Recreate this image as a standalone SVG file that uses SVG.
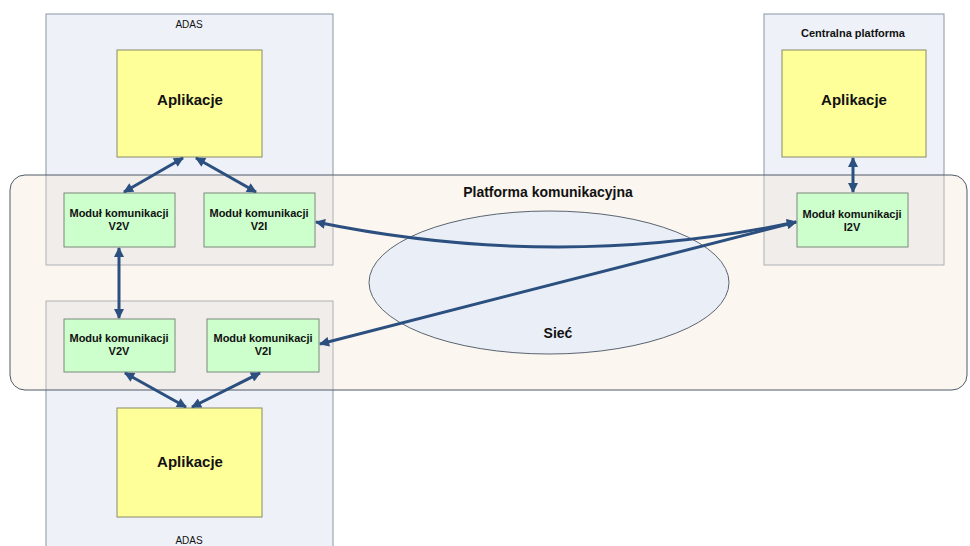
<svg xmlns="http://www.w3.org/2000/svg" width="970" height="546" viewBox="0 0 970 546">
<style>
.bg{fill:#ffffff}
.sys{fill:#eef1f8;stroke:#8a96a4;stroke-width:1}
.plat{fill:#f7e6d4;fill-opacity:0.35;stroke:#4e5a68;stroke-width:1}
.app{fill:#ffff99;stroke:#8a8a6a;stroke-width:1}
.mod{fill:#ccffcc;stroke:#7a8a7a;stroke-width:1}
.net{fill:#eaeff7;stroke:#5a6470;stroke-width:1}
.t{font-family:"Liberation Sans",Arial,sans-serif;fill:#111;text-anchor:middle}
.b{font-weight:bold}
.conn{fill:none;stroke:#2b4f7e;stroke-width:3}
</style>
<defs>
<marker id="ah" viewBox="0 0 10 10" refX="9" refY="5" markerWidth="12" markerHeight="10" markerUnits="userSpaceOnUse" orient="auto-start-reverse">
<path d="M0,0 L10,5 L0,10 z" fill="#2b4f7e"/>
</marker>
</defs>
<rect class="bg" x="0" y="0" width="970" height="546"/>
<g id="adas-top">
<rect class="sys" x="46" y="14" width="287" height="251"/>
<text class="t" x="189" y="28" font-size="10">ADAS</text>
</g>
<g id="adas-bottom">
<rect class="sys" x="46" y="301" width="287" height="260"/>
<text class="t" x="189" y="544" font-size="10">ADAS</text>
</g>
<g id="central">
<rect class="sys" x="764" y="14" width="180" height="251"/>
<text class="t b" x="853" y="37" font-size="11">Centralna platforma</text>
</g>
<g id="platforma">
<rect class="plat" x="10" y="175" width="957" height="215" rx="15" ry="15"/>
<text class="t b" x="548" y="197" font-size="14">Platforma komunikacyjna</text>
</g>
<g id="siec">
<ellipse class="net" cx="549" cy="282.5" rx="180" ry="71.5"/>
<text class="t b" x="558" y="338" font-size="14">Sieć</text>
</g>
<g id="app-top">
<rect class="app" x="117" y="50" width="145" height="107"/>
<text class="t b" x="190" y="105" font-size="15">Aplikacje</text>
</g>
<g id="app-bottom">
<rect class="app" x="117" y="408" width="145" height="109"/>
<text class="t b" x="190" y="467" font-size="15">Aplikacje</text>
</g>
<g id="app-central">
<rect class="app" x="782" y="50" width="144" height="107"/>
<text class="t b" x="854" y="105" font-size="15">Aplikacje</text>
</g>
<g id="v2v-top">
<rect class="mod" x="64" y="193" width="111" height="54"/>
<text class="t b" x="119" y="217" font-size="11">Moduł komunikacji</text>
<text class="t b" x="119" y="230" font-size="11">V2V</text>
</g>
<g id="v2i-top">
<rect class="mod" x="204" y="193" width="111" height="54"/>
<text class="t b" x="259" y="217" font-size="11">Moduł komunikacji</text>
<text class="t b" x="259" y="230" font-size="11">V2I</text>
</g>
<g id="v2v-bottom">
<rect class="mod" x="64" y="319" width="111" height="53"/>
<text class="t b" x="119" y="342" font-size="11">Moduł komunikacji</text>
<text class="t b" x="119" y="355" font-size="11">V2V</text>
</g>
<g id="v2i-bottom">
<rect class="mod" x="207" y="319" width="112" height="53"/>
<text class="t b" x="263" y="342" font-size="11">Moduł komunikacji</text>
<text class="t b" x="263" y="355" font-size="11">V2I</text>
</g>
<g id="i2v">
<rect class="mod" x="797" y="193" width="111" height="54"/>
<text class="t b" x="852" y="218" font-size="11">Moduł komunikacji</text>
<text class="t b" x="852" y="231" font-size="11">I2V</text>
</g>
<g id="connectors">
<line class="conn" x1="183" y1="158" x2="124" y2="192" marker-start="url(#ah)" marker-end="url(#ah)"/>
<line class="conn" x1="196" y1="158" x2="256" y2="192" marker-start="url(#ah)" marker-end="url(#ah)"/>
<line class="conn" x1="119" y1="248" x2="119" y2="318" marker-start="url(#ah)" marker-end="url(#ah)"/>
<line class="conn" x1="125" y1="373" x2="186" y2="407" marker-start="url(#ah)" marker-end="url(#ah)"/>
<line class="conn" x1="260" y1="373" x2="192" y2="407" marker-start="url(#ah)" marker-end="url(#ah)"/>
<line class="conn" x1="853" y1="158" x2="853" y2="192" marker-start="url(#ah)" marker-end="url(#ah)"/>
<path class="conn" d="M316,222 Q560,272 796,222" marker-start="url(#ah)" marker-end="url(#ah)"/>
<line class="conn" x1="320" y1="344" x2="796" y2="222" marker-start="url(#ah)" marker-end="url(#ah)"/>
</g>
</svg>
